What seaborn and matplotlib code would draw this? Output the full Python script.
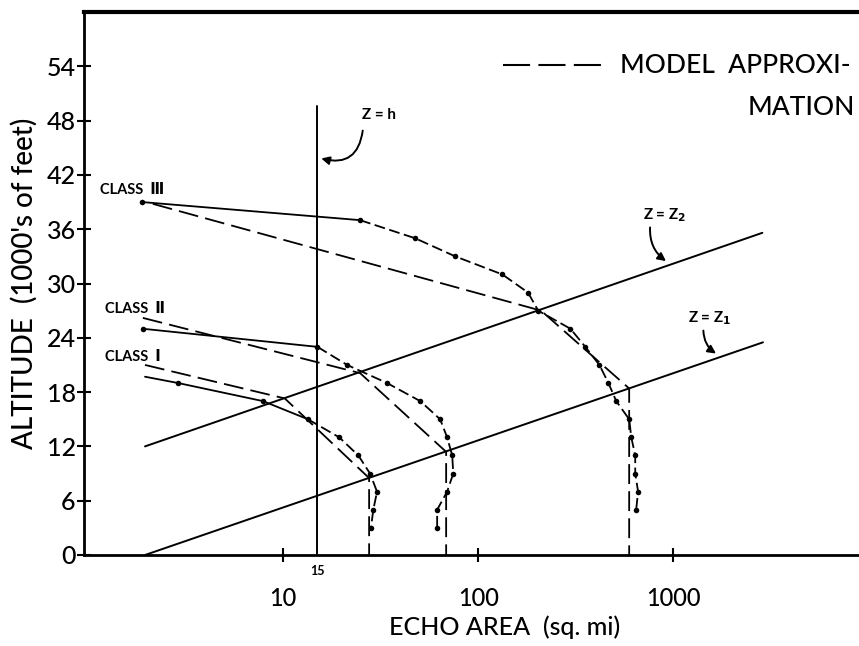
import numpy as np
import pandas as pd
import matplotlib
matplotlib.use("Agg")
import matplotlib.pyplot as plt
import seaborn as sns

# ---- data (echo area in sq. mi, altitude in 1000's of feet) ----
class3_area = [1.89, 24.8, 47.5, 76.2, 133, 180, 203, 297, 354, 418, 465, 510, 594, 609, 638, 638, 660, 645]
class3_alt = [39, 37, 35, 33, 31, 29, 27, 25, 23, 21, 19, 17, 15, 13, 11, 9, 7, 5]
class2_area = [1.91, 15, 21.3, 34.1, 50.5, 63.8, 69.3, 73.6, 74.5, 69.3, 61.6, 61.6]
class2_alt = [25, 23, 21, 19, 17, 15, 13, 11, 9, 7, 5, 3]
class1_area = [1.96, 2.9, 7.9, 13.4, 19.4, 24.3, 27.9, 30.3, 29.0, 28.2]
class1_alt = [19.7, 19, 17, 15, 13, 11, 9, 7, 5, 3]

model3_area = [2.15, 210, 594, 594]
model3_alt = [38.8, 27.0, 18.4, 0]
model2_area = [1.91, 24.8, 68.5, 68.5]
model2_alt = [26.2, 20.1, 11.4, 0]
model1_area = [1.96, 10.2, 27.6, 27.6]
model1_alt = [21.0, 17.3, 8.5, 0]

z1_area = [1.96, 2880]
z1_alt = [0, 23.5]
z2_area = [1.96, 2860]
z2_alt = [12, 35.6]
zh_area = [15, 15]
zh_alt = [0, 49.6]

yticks = [0, 6, 12, 18, 24, 30, 36, 42, 48, 54]
xticks = [10, 100, 1000]
xticklabels = ["10", "100", "1000"]

sns.set_theme(style="white")
plt.rcParams["font.family"] = ["Lato", "DejaVu Sans"]
plt.rcParams["mathtext.fontset"] = "dejavusans"

W, H = 859, 646
fig = plt.figure(figsize=(W / 100, H / 100), dpi=100)
left_px, right_px, top_px, bottom_px = 84, 925, 12, 555
ax = fig.add_axes([left_px / W, (H - bottom_px) / H,
                   (right_px - left_px) / W, (bottom_px - top_px) / H])
ax.set_xscale("log")
ax.set_xlim(0.954, 19500)
ax.set_ylim(0, 60)

k = "black"
lw = 1.3
data_dash = (0, (6, 2.5))
model_dash = (0, (11, 4))


def solid_then_dashed(xs, ys, n_solid, first_marked=True):
    df_s = pd.DataFrame({"x": xs[:n_solid + 1], "y": ys[:n_solid + 1]})
    df_d = pd.DataFrame({"x": xs[n_solid:], "y": ys[n_solid:]})
    sns.lineplot(data=df_s, x="x", y="y", sort=False, estimator=None, ax=ax,
                 color=k, lw=lw)
    sns.lineplot(data=df_d, x="x", y="y", sort=False, estimator=None, ax=ax,
                 color=k, lw=lw, linestyle=data_dash)
    start = 0 if first_marked else 1
    df_m = pd.DataFrame({"x": xs[start:], "y": ys[start:]})
    sns.scatterplot(data=df_m, x="x", y="y", ax=ax, color=k, s=16,
                    edgecolor=k, linewidth=0, zorder=4)


solid_then_dashed(class3_area, class3_alt, 1)
solid_then_dashed(class2_area, class2_alt, 1)
solid_then_dashed(class1_area, class1_alt, 3, first_marked=False)

for mx, my in [(model3_area, model3_alt), (model2_area, model2_alt), (model1_area, model1_alt)]:
    sns.lineplot(x=mx, y=my, sort=False, estimator=None, ax=ax, color=k,
                 lw=lw, linestyle=model_dash)

for lx, ly in [(z1_area, z1_alt), (z2_area, z2_alt), (zh_area, zh_alt)]:
    sns.lineplot(x=lx, y=ly, sort=False, estimator=None, ax=ax, color=k, lw=1.4)

# axes styling
ax.set_yticks(yticks)
ax.set_yticklabels([str(v) for v in yticks])
ax.set_xticks(xticks)
ax.set_xticklabels(xticklabels)
ax.xaxis.set_minor_locator(matplotlib.ticker.NullLocator())
ax.tick_params(axis="y", direction="inout", length=10, width=1.5, colors=k,
               labelsize=18, pad=1, left=True)
ax.tick_params(axis="x", direction="inout", length=10, width=1.5, colors=k,
               labelsize=17, pad=18, bottom=True)
for lab in ax.get_xticklabels() + ax.get_yticklabels():
    lab.set_fontweight("medium")
for s in ["left", "bottom"]:
    ax.spines[s].set_linewidth(2.0)
    ax.spines[s].set_color(k)
ax.spines["top"].set_linewidth(3.0)
ax.spines["top"].set_color(k)
ax.spines["right"].set_visible(False)

ax.set_ylabel("ALTITUDE  (1000's of feet)", fontsize=20, color=k, fontweight="medium")
ax.set_xlabel("ECHO AREA  (sq. mi)", fontsize=18, color=k, fontweight="medium")
ax.yaxis.set_label_coords((38 - left_px) / (right_px - left_px), 0.5)
ax.xaxis.set_label_coords((505 - left_px) / (right_px - left_px), -0.112)

ax.text(15, -1.8, "15", fontsize=9, fontweight="bold", ha="center", va="center",
        color=k, clip_on=False)

# class labels
ax.text(1.15, 40.3, "CLASS  Ⅲ", fontsize=10.5, fontweight="bold", va="center", color=k)
ax.text(1.22, 27.2, "CLASS  Ⅱ", fontsize=10.5, fontweight="bold", va="center", color=k)
ax.text(1.22, 21.9, "CLASS  Ⅰ", fontsize=10.5, fontweight="bold", va="center", color=k)

# annotations
arrow = dict(arrowstyle="-|>", color=k, lw=1.4, mutation_scale=12)
ax.text(25.4, 48.6, "Z = h", fontsize=11, fontweight="bold", va="center", color=k)
ax.annotate("", xy=(15.2, 43.9), xytext=(25.7, 47.2),
            arrowprops=dict(connectionstyle="arc3,rad=-0.6", **arrow))
ax.text(702, 37.6, "Z = Z$_{\\mathbf{2}}$", fontsize=11, fontweight="bold", va="center", color=k)
ax.annotate("", xy=(942, 32.3), xytext=(762, 36.5),
            arrowprops=dict(connectionstyle="arc3,rad=0.3", **arrow))
ax.text(1194, 26.2, "Z = Z$_{\\mathbf{1}}$", fontsize=11, fontweight="bold", va="center", color=k)
ax.annotate("", xy=(1702, 22.1), xytext=(1426, 25.1),
            arrowprops=dict(connectionstyle="arc3,rad=0.3", **arrow))

# model legend
leg_x = [134, 448]
leg_y = [54.1, 54.1]
sns.lineplot(x=leg_x, y=leg_y, ax=ax, color=k, lw=1.5, linestyle=(0, (13, 4)))
ax.text(535, 54.1, "MODEL  APPROXI-", fontsize=19, fontweight="medium", va="center", ha="left", color=k)
ax.text(8570, 49.4, "MATION", fontsize=19, fontweight="medium", va="center", ha="right", color=k)

if ax.get_legend() is not None:
    ax.get_legend().remove()

fig.savefig("out.png", dpi=100)
